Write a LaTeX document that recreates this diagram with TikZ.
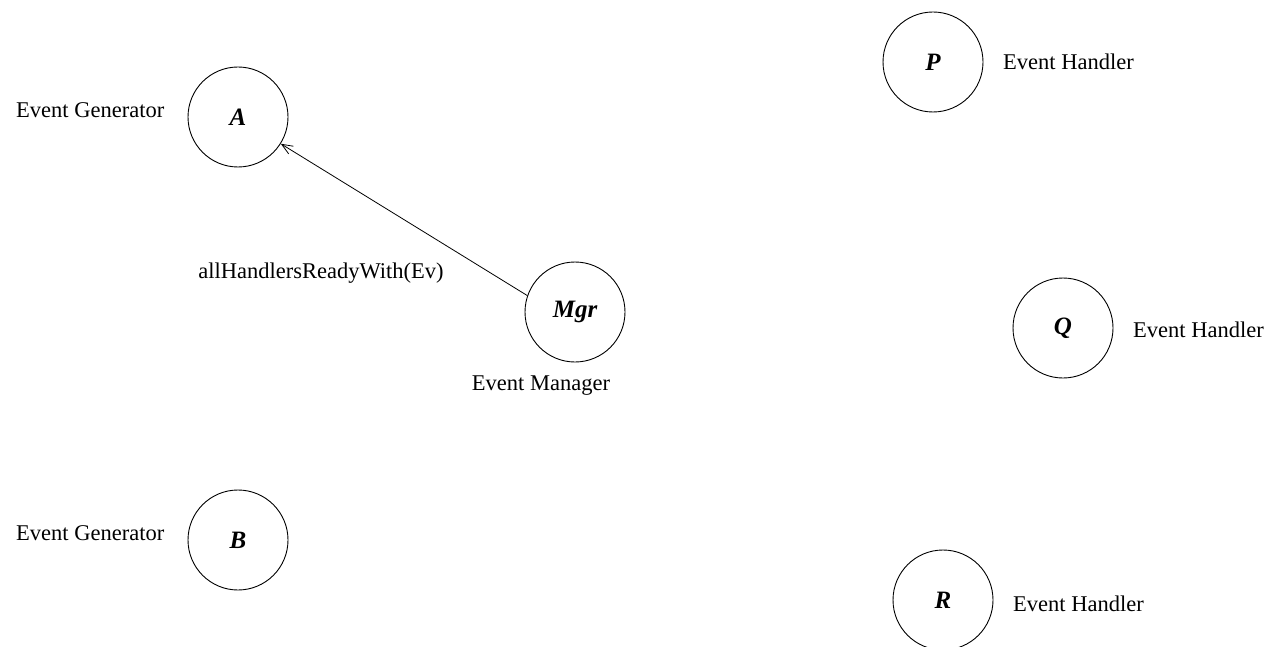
\documentclass[tikz,border=0pt]{standalone}
\usepackage{fontspec}
\setmainfont{Liberation Serif}
\usetikzlibrary{arrows.meta}
\begin{document}
\begin{tikzpicture}[x=1pt,y=-1pt,
  agent/.style={draw,circle,line width=0.9pt,minimum size=100pt,inner sep=0pt,
    font=\fontsize{25}{28}\selectfont\bfseries\itshape},
  role/.style={font=\fontsize{22.5}{26}\selectfont,inner sep=0pt},
  msg/.style={line width=0.8pt,-{Straight Barb[length=11pt,width=9pt,line width=0.8pt]}}]
  \useasboundingbox (0,0) rectangle (1271,647);
  \clip (0,0) rectangle (1271,647);

  % processes
  \node[agent] (A)   at (238,117) {A};
  \node[agent] (B)   at (238,540) {B};
  \node[agent] (Mgr) at (575,312) {Mgr};
  \node[agent] (P)   at (933,62)  {P};
  \node[agent] (Q)   at (1063,328) {Q};
  \node[agent] (R)   at (943,600) {R};

  % role captions
  \node[role,anchor=west] (lA) at (16,110) {Event Generator};
  \node[role,anchor=west] (lB) at (16,533) {Event Generator};
  \node[role] (lM) at (541,386) {Event Manager};
  \node[role,anchor=west] (lP) at (1003,62) {Event Handler};
  \node[role,anchor=west] (lQ) at (1133,330) {Event Handler};
  \node[role,anchor=west] (lR) at (1013,604) {Event Handler};

  % message from the manager back to generator A
  \draw[msg] (Mgr.161) -- (A.-32);
  \node[role] (m1) at (321,273) {allHandlersReadyWith(Ev)};
\end{tikzpicture}
\end{document}
